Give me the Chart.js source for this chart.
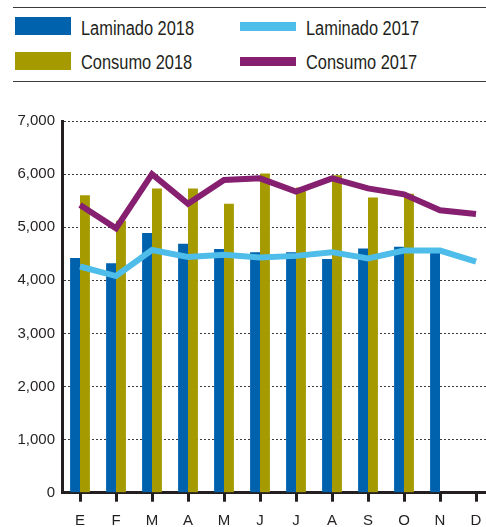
<!DOCTYPE html>
<html>
<head>
<meta charset="utf-8">
<script src="https://cdn.jsdelivr.net/npm/chart.js@4"></script>
<style>
  html, body { margin: 0; padding: 0; background: #fff; }
  body { width: 486px; height: 527px; overflow: hidden; position: relative; color: #231f20; }
  #leyenda { position: absolute; left: 0; top: 0; width: 486px; height: 90px; }
  .regla { position: absolute; left: 13px; width: 473px; height: 1px; background: #3a3a3a; }
  .muestra { position: absolute; }
  .texto { position: absolute; font-family: "Liberation Sans", Arial, sans-serif; font-size: 20px;
           line-height: 20px; white-space: nowrap; transform: scaleX(0.82); transform-origin: 0 0; }
  #marco { position: absolute; left: 0; top: 90px; width: 494px; height: 460px; }
</style>
</head>
<body>
<div id="leyenda"></div>
<div id="marco"><canvas id="grafico" width="494" height="460"></canvas></div>
<script>
// Datos (toneladas)
const meses = ["E", "F", "M", "A", "M", "J", "J", "A", "S", "O", "N", "D"];
const laminado2018 = [4420, 4320, 4890, 4690, 4590, 4530, 4530, 4400, 4600, 4630, 4530, null];
const consumo2018 = [5600, 5120, 5730, 5730, 5440, 6010, 5750, 5980, 5560, 5630, null, null];
const laminado2017 = [4260, 4080, 4570, 4440, 4480, 4430, 4460, 4530, 4410, 4560, 4560, 4350];
const consumo2017 = [5420, 4980, 6000, 5440, 5890, 5920, 5670, 5920, 5730, 5620, 5320, 5250];

const AZUL = "#0061ad";
const OLIVA = "#a59a00";
const CELESTE = "#4ebde9";
const MORADO = "#861f6f";
const TINTA = "#231f20";

// Leyenda en HTML, dos columnas
const leyenda = document.getElementById("leyenda");
leyenda.innerHTML =
    '<div class="regla" style="top:7px"></div>' +
    '<div class="regla" style="top:81px"></div>';
const items = [
    { texto: "Laminado 2018", color: AZUL, x: 15, y: 17, h: 18, ty: 18 },
    { texto: "Consumo 2018", color: OLIVA, x: 15, y: 52, h: 18, ty: 52 },
    { texto: "Laminado 2017", color: CELESTE, x: 240, y: 22, h: 9, ty: 18 },
    { texto: "Consumo 2017", color: MORADO, x: 240, y: 57, h: 9, ty: 52 }
];
items.forEach(it => {
    const m = document.createElement("div");
    m.className = "muestra";
    m.style.cssText = `left:${it.x}px;top:${it.y}px;width:56px;height:${it.h}px;background:${it.color}`;
    leyenda.appendChild(m);
    const t = document.createElement("div");
    t.className = "texto";
    t.style.cssText = `left:${it.x + 66}px;top:${it.ty}px`;
    t.textContent = it.texto;
    leyenda.appendChild(t);
});

const fuente = "'Liberation Sans', Arial, sans-serif";

new Chart(document.getElementById("grafico"), {
    type: "bar",
    data: {
        labels: meses,
        datasets: [
            {
                type: "line", label: "Consumo 2017", data: consumo2017,
                borderColor: MORADO, borderWidth: 6, pointRadius: 0, tension: 0, order: 0
            },
            {
                type: "line", label: "Laminado 2017", data: laminado2017,
                borderColor: CELESTE, borderWidth: 6, pointRadius: 0, tension: 0, order: 0
            },
            {
                label: "Laminado 2018", data: laminado2018,
                backgroundColor: AZUL, order: 1,
                categoryPercentage: 0.55, barPercentage: 1.0
            },
            {
                label: "Consumo 2018", data: consumo2018,
                backgroundColor: OLIVA, order: 1,
                categoryPercentage: 0.55, barPercentage: 1.0
            }
        ]
    },
    options: {
        responsive: false,
        animation: false,
        layout: { padding: { top: 31, left: 0, right: 0, bottom: 0 } },
        plugins: { legend: { display: false }, tooltip: { enabled: false } },
        scales: {
            x: {
                grid: {
                    offset: false, drawOnChartArea: false, drawTicks: true,
                    tickLength: 9, tickWidth: 3, tickColor: TINTA
                },
                border: { color: TINTA, width: 3 },
                ticks: { color: TINTA, padding: 10, font: { family: fuente, size: 15 }, maxRotation: 0 },
                afterFit: s => { s.height = 57.3; }
            },
            y: {
                min: 0, max: 7000,
                grid: { color: "#3a3a3a", lineWidth: 1, drawTicks: false },
                border: { color: TINTA, width: 3, dash: [2, 2] },
                ticks: {
                    stepSize: 1000, color: TINTA, padding: 7,
                    font: { family: fuente, size: 15 },
                    callback: v => v.toLocaleString("en-US")
                },
                afterFit: s => { s.width = 62; }
            }
        }
    }
});
</script>
</body>
</html>
